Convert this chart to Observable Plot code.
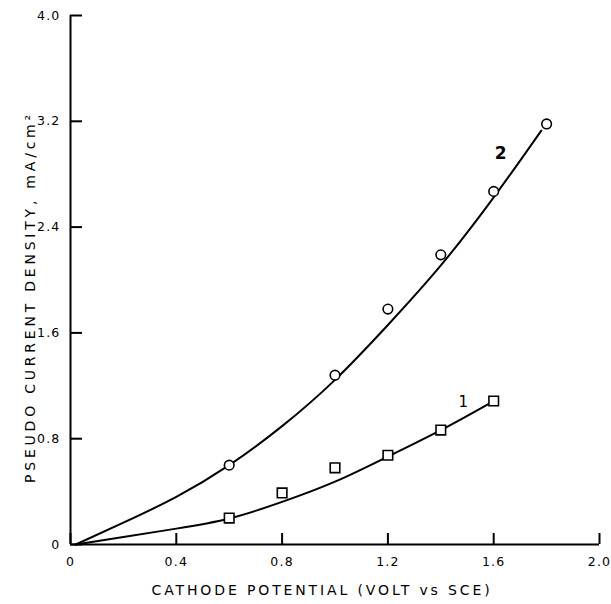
<!DOCTYPE html>
<html><head><meta charset="utf-8">
<script src="https://cdn.jsdelivr.net/npm/d3@7"></script>
<script src="https://cdn.jsdelivr.net/npm/@observablehq/plot@0.6"></script>
<style>body{margin:0;background:#fff}</style>
</head><body><div id="chart"></div>
<script>
// Axis ticks
const xTicks = [0, 0.4, 0.8, 1.2, 1.6, 2.0];
const yTicks = [0, 0.8, 1.6, 2.4, 3.2, 4.0];

// Series 1 (squares)
const squareX = [0.6, 0.8, 1.0, 1.2, 1.4, 1.6];
const squareY = [0.20, 0.39, 0.58, 0.675, 0.865, 1.085];
// Series 2 (circles)
const circleX = [0.6, 1.0, 1.2, 1.4, 1.6, 1.8];
const circleY = [0.60, 1.28, 1.78, 2.19, 2.67, 3.18];

// Fitted curves
const curve1X = [0.02, 0.2, 0.4, 0.6, 0.8, 1.0, 1.2, 1.4, 1.6];
const curve1Y = [0, 0.057, 0.12, 0.197, 0.322, 0.475, 0.665, 0.865, 1.085];
const curve2X = [0.02, 0.2, 0.4, 0.6, 0.8, 1.0, 1.2, 1.4, 1.6, 1.78];
const curve2Y = [0, 0.165, 0.36, 0.60, 0.895, 1.245, 1.66, 2.11, 2.625, 3.13];

// Curve labels
const label1 = {t: "1", x: 1.485, y: 1.076};
const label2 = {t: "2", x: 1.626, y: 2.956};

const xTitle = "CATHODE POTENTIAL (VOLT vs SCE)";
const yTitle = "PSEUDO CURRENT DENSITY, mA/cm\u00B2";

const zip = (xs, ys) => xs.map((x, i) => ({x, y: ys[i]}));
const squares = zip(squareX, squareY);
const circles = zip(circleX, circleY);
const curve1 = zip(curve1X, curve1Y);
const curve2 = zip(curve2X, curve2Y);
const fmt = d => d === 0 ? "0" : d.toFixed(1);

const W = 611, H = 604, ML = 70, MR = 12, MT = 15, MB = 60;
const frameW = W - ML - MR, frameH = H - MT - MB;

const plot = Plot.plot({
  width: W, height: H,
  marginLeft: ML, marginRight: MR, marginTop: MT, marginBottom: MB,
  x: {domain: [0, 2]},
  y: {domain: [0, 4]},
  style: {fontFamily: "DejaVu Sans", fontSize: "12.5px", color: "#000", background: "#fff"},
  marks: [
    Plot.ruleX([0], {stroke: "#000", strokeWidth: 2}),
    Plot.ruleY([0], {stroke: "#000", strokeWidth: 2}),
    // inward ticks
    Plot.tickX(xTicks, {x: d => d, insetTop: frameH - 11, stroke: "#000", strokeWidth: 2}),
    Plot.tickY(yTicks, {y: d => d, insetRight: frameW - 12, stroke: "#000", strokeWidth: 2}),
    Plot.axisX({ticks: xTicks, tickFormat: fmt, tickSize: 0, tickPadding: 13, label: null}),
    Plot.axisY({ticks: yTicks, tickFormat: fmt, tickSize: 0, tickPadding: 10, label: null}),
    Plot.line(curve1, {x: "x", y: "y", curve: "natural", stroke: "#000", strokeWidth: 2}),
    Plot.line(curve2, {x: "x", y: "y", curve: "natural", stroke: "#000", strokeWidth: 2}),
    Plot.dot(squares, {x: "x", y: "y", symbol: "square", r: 5.4, stroke: "#000", fill: "#fff", strokeWidth: 1.6}),
    Plot.dot(circles, {x: "x", y: "y", symbol: "circle", r: 4.8, stroke: "#000", fill: "#fff", strokeWidth: 1.6}),
    Plot.text([label1], {x: "x", y: "y", text: "t", fontSize: 15, fill: "#000"}),
    Plot.text([label2], {x: "x", y: "y", text: "t", fontSize: 17, fontWeight: "bold", fill: "#000"}),
    Plot.text([xTitle], {frameAnchor: "bottom", textAnchor: "middle", dx: -13, dy: 50, fontSize: 14, fill: "#000"}),
    Plot.text([yTitle], {frameAnchor: "left", textAnchor: "middle", dx: -40, dy: 17, rotate: -90, fontSize: 14, fill: "#000"})
  ]
});
document.getElementById("chart").appendChild(plot);

// letter spacing to match the lettering widths
function spread(content, target) {
  plot.querySelectorAll("text").forEach(t => {
    if (t.textContent === content) {
      const n = content.length;
      const w = t.getComputedTextLength();
      const s = (target - w) / n;
      if (s > 0) t.setAttribute("letter-spacing", s.toFixed(2));
    }
  });
}
spread(xTitle, 341);
spread(yTitle, 372);
plot.querySelectorAll('g[aria-label="x-axis tick label"] text, g[aria-label="y-axis tick label"] text')
  .forEach(t => t.setAttribute("letter-spacing", "1.2"));
</script>
</body></html>
